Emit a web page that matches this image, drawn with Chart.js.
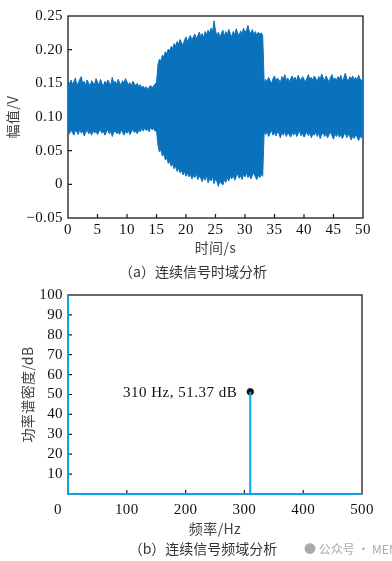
<!DOCTYPE html>
<html>
<head>
<meta charset="utf-8">
<script src="https://cdn.jsdelivr.net/npm/chart.js@4.4.1/dist/chart.umd.min.js"></script>
<style>
  body { margin: 0; background: #fff; width: 392px; height: 561px; position: relative; overflow: hidden; }
  canvas { position: absolute; left: 0; }
  .cap { position: absolute; font-family: "Noto Sans CJK SC", sans-serif; font-size: 14px; color: #333; white-space: nowrap; transform: translate(-50%, -50%); }
  .mark { position: absolute; font-family: "Noto Sans CJK SC", sans-serif; font-size: 12px; color: #aaa; white-space: nowrap; }
</style>
</head>
<body>
<canvas id="timeChart" width="392" height="262" style="top:0"></canvas>
<canvas id="freqChart" width="392" height="262" style="top:280px"></canvas>
<div class="cap" style="left:193px; top:271px">（a）连续信号时域分析</div>
<div class="cap" style="left:203px; top:548px">（b）连续信号频域分析</div>
<div class="mark" style="left:304px; top:540px">● 公众号 · MEMS</div>
<script>
// time domain: upper / lower envelope of the signal, every 0.25 s
const sampleStep = 0.25;

const upperV = [
  0.150, 0.146, 0.155, 0.149, 0.152, 0.158, 0.147, 0.151, 0.156, 0.160,
  0.149, 0.153, 0.147, 0.155, 0.150, 0.146, 0.154, 0.151, 0.148, 0.157,
  0.152, 0.147, 0.156, 0.150, 0.146, 0.153, 0.149, 0.155, 0.151, 0.147,
  0.159, 0.150, 0.153, 0.148, 0.156, 0.151, 0.147, 0.154, 0.150, 0.157,
  0.152, 0.148, 0.151, 0.146, 0.153, 0.149, 0.147, 0.150, 0.145, 0.148,
  0.143, 0.146, 0.142, 0.145, 0.141, 0.144, 0.147, 0.143, 0.146, 0.149,
  0.151,
  0.178, 0.186, 0.183, 0.192, 0.189, 0.197, 0.194, 0.201, 0.198, 0.205,
  0.202, 0.209, 0.205, 0.212, 0.208, 0.215, 0.210, 0.207, 0.214, 0.219,
  0.212, 0.217, 0.221, 0.214, 0.219, 0.223, 0.216, 0.221, 0.226, 0.219,
  0.224, 0.218, 0.227, 0.222, 0.229, 0.224, 0.232, 0.226, 0.243, 0.228,
  0.221, 0.226, 0.218, 0.224, 0.229, 0.220, 0.227, 0.222, 0.230, 0.224,
  0.219, 0.227, 0.222, 0.231, 0.225, 0.220, 0.228, 0.223, 0.232, 0.226,
  0.229, 0.236, 0.227, 0.224, 0.230, 0.222, 0.227, 0.221, 0.226, 0.223,
  0.225, 0.221,
  0.150, 0.156, 0.152, 0.159, 0.154, 0.150, 0.157, 0.161, 0.153, 0.158,
  0.155, 0.151, 0.160, 0.156, 0.163, 0.154, 0.158, 0.152, 0.157, 0.161,
  0.155, 0.159, 0.153, 0.162, 0.157, 0.154, 0.160, 0.156, 0.152, 0.158,
  0.163, 0.155, 0.159, 0.154, 0.161, 0.157, 0.153, 0.160, 0.156, 0.164,
  0.158, 0.154, 0.161, 0.156, 0.152, 0.159, 0.163, 0.155, 0.158, 0.154,
  0.160, 0.156, 0.162, 0.153, 0.158, 0.165, 0.157, 0.153, 0.160, 0.156,
  0.161, 0.155, 0.159, 0.154, 0.162, 0.157, 0.153, 0.158];

const lowerV = [
  0.079, 0.075, 0.081, 0.077, 0.073, 0.080, 0.078, 0.074, 0.082, 0.076,
  0.079, 0.072, 0.077, 0.081, 0.075, 0.078, 0.073, 0.080, 0.076, 0.079,
  0.074, 0.078, 0.081, 0.076, 0.079, 0.073, 0.077, 0.082, 0.075, 0.079,
  0.071, 0.077, 0.080, 0.075, 0.078, 0.074, 0.081, 0.077, 0.073, 0.079,
  0.076, 0.080, 0.074, 0.078, 0.082, 0.077, 0.079, 0.075, 0.081, 0.078,
  0.083, 0.079, 0.084, 0.080, 0.082, 0.078, 0.085, 0.081, 0.083, 0.079,
  0.080,
  0.058, 0.048, 0.052, 0.042, 0.045, 0.036, 0.039, 0.031, 0.034, 0.027,
  0.030, 0.023, 0.027, 0.019, 0.024, 0.017, 0.021, 0.014, 0.019, 0.012,
  0.017, 0.011, 0.015, 0.008, 0.013, 0.010, 0.016, 0.007, 0.012, 0.009,
  0.004, 0.011, 0.006, 0.013, 0.002, 0.009, 0.005, 0.012, 0.001, 0.008,
  0.004, -0.003, 0.006, 0.001, -0.001, 0.007, 0.003, 0.010, 0.005, 0.012,
  0.008, 0.014, 0.006, 0.011, 0.016, 0.009, 0.013, 0.007, 0.015, 0.011,
  0.017, 0.010, 0.014, 0.008, 0.013, 0.018, 0.011, 0.007, 0.014, 0.010,
  0.015, 0.012,
  0.079, 0.074, 0.078, 0.071, 0.076, 0.080, 0.073, 0.077, 0.072, 0.078,
  0.075, 0.069, 0.077, 0.073, 0.079, 0.071, 0.076, 0.074, 0.070, 0.077,
  0.073, 0.078, 0.071, 0.075, 0.079, 0.072, 0.076, 0.070, 0.074, 0.078,
  0.072, 0.077, 0.069, 0.075, 0.073, 0.078, 0.071, 0.076, 0.068, 0.074,
  0.077, 0.071, 0.075, 0.069, 0.074, 0.078, 0.072, 0.067, 0.075, 0.071,
  0.076, 0.070, 0.074, 0.068, 0.073, 0.077, 0.069, 0.075, 0.071, 0.066,
  0.072, 0.068, 0.074, 0.070, 0.065, 0.071, 0.069, 0.073];

// frequency domain
const freqs = [0, 0, 310, 310, 310, 500];
const psd = [100, 0, 0, 51.37, 0, 0];
const peakFreq = 310;
const peakDb = 51.37;

const serif = "Liberation Serif, DejaVu Serif, serif";
const cjk = "Noto Sans CJK SC, sans-serif";
Chart.defaults.font.family = serif;

// box round the plot area, small inward ticks
const framePlugin = {
    id: 'frame',
    beforeDraw(chart) {
        chart.ctx.letterSpacing = '0.4px';
    },
    beforeDatasetsDraw(chart) {
        const { ctx, chartArea: a, scales } = chart;
        ctx.save();
        ctx.strokeStyle = '#1a1a1a';
        ctx.lineWidth = 1.3;
        ctx.strokeRect(a.left, a.top, a.right - a.left, a.bottom - a.top);
        ctx.lineWidth = 1.2;
        ctx.beginPath();
        scales.x.ticks.forEach(t => {
            const px = scales.x.getPixelForValue(t.value);
            if (px <= a.left + 1 || px >= a.right - 1) return;
            ctx.moveTo(px, a.bottom);
            ctx.lineTo(px, a.bottom - 4);
        });
        scales.y.ticks.forEach(t => {
            const py = scales.y.getPixelForValue(t.value);
            if (py <= a.top + 1 || py >= a.bottom - 1) return;
            ctx.moveTo(a.left, py);
            ctx.lineTo(a.left + 4, py);
        });
        ctx.stroke();
        ctx.restore();
    }
};

// "0" under the corner and the peak label
const peakPlugin = {
    id: 'peak',
    afterDatasetsDraw(chart) {
        const { ctx, scales } = chart;
        ctx.save();
        ctx.font = '15px ' + serif;
        ctx.fillStyle = '#111';
        ctx.textBaseline = 'middle';
        ctx.textAlign = 'center';
        ctx.fillText(String(scales.x.min), scales.x.left - 10, scales.x.top + 16);
        const px = scales.x.getPixelForValue(peakFreq);
        const py = scales.y.getPixelForValue(peakDb);
        ctx.letterSpacing = '0.5px';
        ctx.textAlign = 'right';
        ctx.fillText(peakFreq + ' Hz, ' + peakDb.toFixed(2) + ' dB', px - 13, py + 1);
        ctx.restore();
    }
};

function fixWidth(w) { return s => { s.width = w; }; }
function fixHeight(h) { return s => { s.height = h; }; }

const tickFont = { family: serif, size: 15 };

new Chart(document.getElementById('timeChart'), {
    type: 'line',
    data: {
        datasets: [
            {
                data: upperV.map((v, i) => ({ x: i * sampleStep, y: v })),
                borderColor: '#0a72bd',
                backgroundColor: '#0a72bd',
                borderWidth: 1,
                pointRadius: 0,
                fill: false
            },
            {
                data: lowerV.map((v, i) => ({ x: i * sampleStep, y: v })),
                borderColor: '#0a72bd',
                backgroundColor: '#0a72bd',
                borderWidth: 1,
                pointRadius: 0,
                fill: '-1'
            }
        ]
    },
    options: {
        responsive: false,
        animation: false,
        layout: { padding: { top: 16, right: 29, bottom: 0, left: 0 } },
        plugins: { legend: { display: false }, tooltip: { enabled: false } },
        scales: {
            x: {
                type: 'linear',
                min: 0,
                max: 50,
                afterFit: fixHeight(44),
                grid: { display: false, drawTicks: false },
                border: { display: false },
                ticks: { stepSize: 5, autoSkip: false, maxRotation: 0, padding: 3, color: '#111', font: tickFont },
                title: { display: true, text: '时间/s', color: '#444', padding: { top: 0, bottom: 6 }, font: { family: cjk, size: 14 } }
            },
            y: {
                min: -0.05,
                max: 0.25,
                afterFit: fixWidth(68),
                grid: { display: false, drawTicks: false },
                border: { display: false },
                ticks: {
                    stepSize: 0.05,
                    autoSkip: false,
                    padding: 5,
                    color: '#111',
                    font: tickFont,
                    callback: v => Math.abs(v) < 1e-9 ? '0' : v.toFixed(2).replace('-', '\u2212')
                },
                title: { display: true, text: '幅值/V', color: '#444', padding: { top: 4, bottom: 0 }, font: { family: cjk, size: 14 } }
            }
        }
    },
    plugins: [framePlugin]
});

new Chart(document.getElementById('freqChart'), {
    type: 'line',
    data: {
        datasets: [
            {
                data: freqs.map((f, i) => ({ x: f, y: psd[i] })),
                borderColor: '#0ca3e4',
                borderWidth: 2,
                pointRadius: 0,
                fill: false,
                clip: false
            },
            {
                data: [{ x: peakFreq, y: peakDb }],
                showLine: false,
                pointRadius: 3.2,
                pointBackgroundColor: '#111',
                pointBorderColor: '#111'
            }
        ]
    },
    options: {
        responsive: false,
        animation: false,
        layout: { padding: { top: 15, right: 30, bottom: 0, left: 0 } },
        plugins: { legend: { display: false }, tooltip: { enabled: false } },
        scales: {
            x: {
                type: 'linear',
                min: 0,
                max: 500,
                afterFit: fixHeight(48),
                grid: { display: false, drawTicks: false },
                border: { display: false },
                ticks: {
                    stepSize: 100,
                    autoSkip: false,
                    maxRotation: 0,
                    padding: 7,
                    color: '#111',
                    font: tickFont,
                    callback: v => v === 0 ? '' : v
                },
                title: { display: true, text: '频率/Hz', color: '#444', padding: { top: 0, bottom: 5 }, font: { family: cjk, size: 14 } }
            },
            y: {
                min: 0,
                max: 100,
                afterFit: fixWidth(68),
                grid: { display: false, drawTicks: false },
                border: { display: false },
                ticks: {
                    stepSize: 10,
                    autoSkip: false,
                    padding: 5,
                    color: '#111',
                    font: tickFont,
                    callback: v => v === 0 ? '' : v
                },
                title: { display: true, text: '功率谱密度/dB', color: '#444', padding: { top: 19, bottom: 0 }, font: { family: cjk, size: 14 } }
            }
        }
    },
    plugins: [framePlugin, peakPlugin]
});
</script>
</body>
</html>
